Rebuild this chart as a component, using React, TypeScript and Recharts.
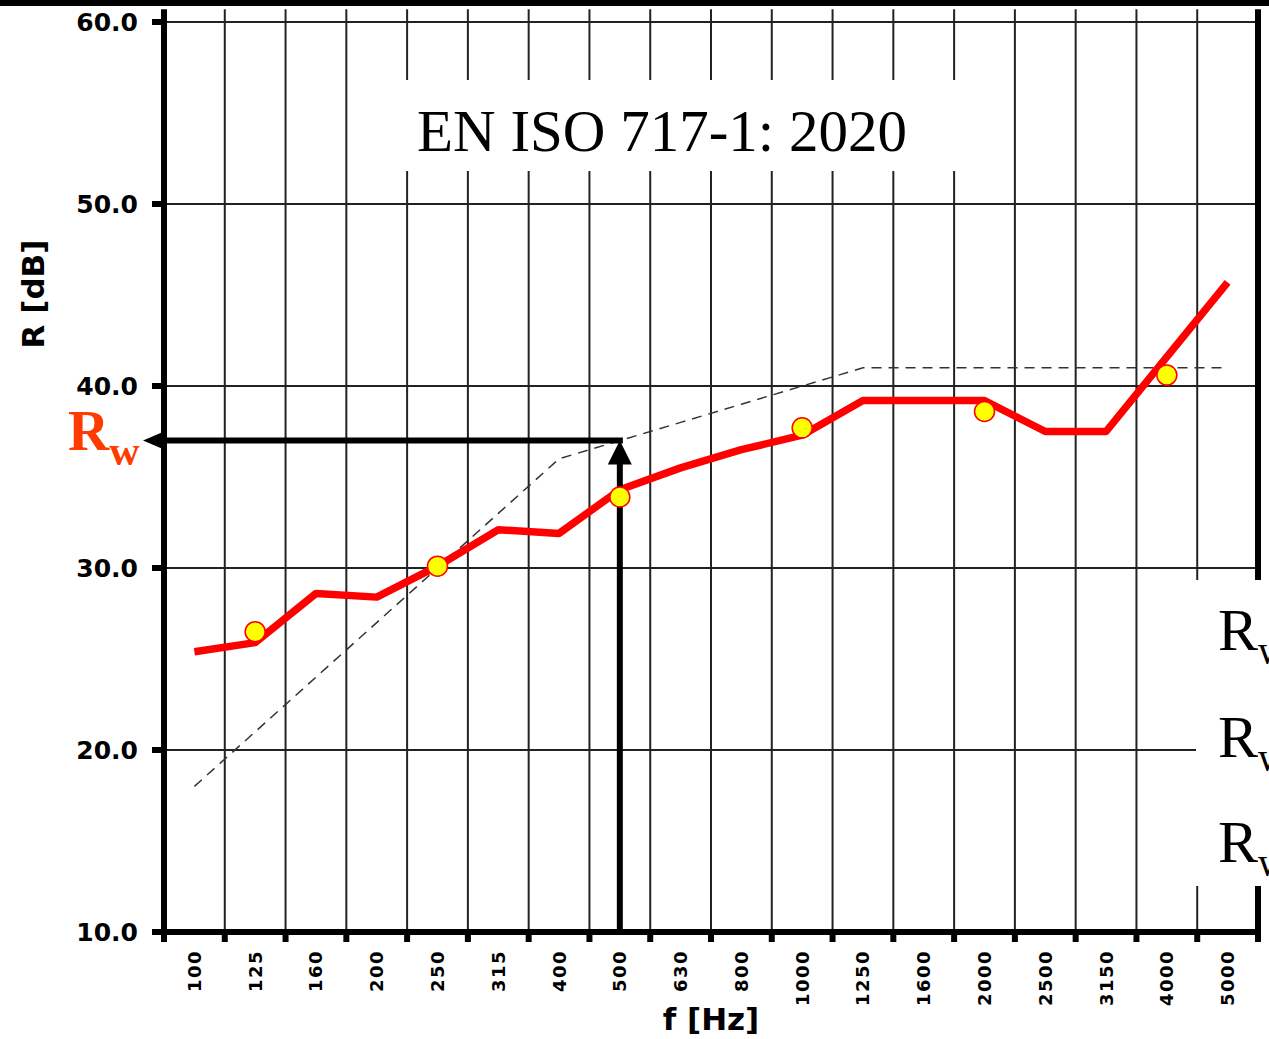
import React from "react";
import { LineChart, Line, XAxis, YAxis, CartesianGrid, ReferenceLine } from "recharts";

const categories = ["100", "125", "160", "200", "250", "315", "400", "500", "630", "800", "1000", "1250", "1600", "2000", "2500", "3150", "4000", "5000"];
const measured = [25.4, 25.9, 28.6, 28.4, 30.1, 32.1, 31.9, 34.3, 35.5, 36.5, 37.3, 39.2, 39.2, 39.2, 37.5, 37.5, 41.6, 45.7];
const octaveValues = [null, 26.5, null, null, 30.1, null, null, 33.9, null, null, 37.7, null, null, 38.6, null, null, 40.6, null];
const referenceCurve = [18, 21, 24, 27, 30, 33, 36, 37, 38, 39, 40, 41, 41, 41, 41, 41, 41, 41];
const yTicks = [10, 20, 30, 40, 50, 60];
const xTicks = categories.map((_, i) => i).concat(categories.length);
const rwValue = 37;
const rwIndex = 7; // 500 Hz
const gridTop = 60.7; // grid lines run a little past 60

const data = categories.map((f, i) => ({
  x: i + 0.5,
  f,
  measured: measured[i],
  octave: octaveValues[i],
  reference: referenceCurve[i],
}));

const W = 1269;
const H = 1039;
const PLOT_LEFT = 164;
const PLOT_RIGHT = 1258;
const BAND = (PLOT_RIGHT - PLOT_LEFT) / categories.length;

const bold = { fontFamily: "'DejaVu Sans', sans-serif", fontWeight: "bold" as const };

function XTick(props: any) {
  const { x, y, payload } = props;
  const label = categories[payload.value];
  if (label === undefined) return <g />;
  return (
    <text
      transform={`translate(${x + BAND / 2},${y + 6}) rotate(-90)`}
      textAnchor="end"
      dominantBaseline="central"
      fontSize={18}
      letterSpacing={1.5}
      fill="#000"
      {...bold}
    >
      {label}
    </text>
  );
}

function ArrowLeft(p: any) {
  const { x1, y1, x2, y2 } = p;
  return (
    <g>
      <line x1={x1 + 3} y1={y1} x2={x2 - 4} y2={y2} stroke="#000" strokeWidth={6} />
      <polygon points={`${x2 - 21},${y2} ${x2},${y2 - 9} ${x2},${y2 + 9}`} fill="#000" />
    </g>
  );
}

function ArrowUp(p: any) {
  const { x1, y1, x2, y2 } = p;
  return (
    <g>
      <line x1={x1} y1={y1} x2={x2} y2={y2 + 18} stroke="#000" strokeWidth={6} />
      <polygon points={`${x2},${y2} ${x2 - 12},${y2 + 24} ${x2 + 12},${y2 + 24}`} fill="#000" />
    </g>
  );
}

export default function App() {
  return (
    <div style={{ position: "absolute", left: 0, top: 0, width: W, height: H, overflow: "hidden", background: "#fff" }}>
      <LineChart width={W} height={H} data={data} margin={{ top: 22, right: W - PLOT_RIGHT, bottom: 0, left: 0 }}>
        <CartesianGrid stroke="#222" strokeWidth={2} horizontal={false} verticalValues={xTicks} />
        {yTicks.map((v) => (
          <ReferenceLine key={v} y={v} stroke="#222" strokeWidth={2} />
        ))}
        {xTicks.map((i) => (
          <ReferenceLine
            key={`ext${i}`}
            segment={[{ x: i, y: 60 }, { x: i, y: gridTop }]}
            ifOverflow="visible"
            stroke={i === 0 || i === categories.length ? "#000" : "#222"}
            strokeWidth={i === 0 || i === categories.length ? 6 : 2}
          />
        ))}
        <XAxis
          type="number"
          dataKey="x"
          domain={[0, categories.length]}
          ticks={xTicks}
          interval={0}
          height={107}
          axisLine={{ stroke: "#000", strokeWidth: 6 }}
          tickLine={{ stroke: "#000", strokeWidth: 6 }}
          tickSize={10}
          tick={<XTick />}
        />
        <YAxis
          type="number"
          domain={[10, 60]}
          ticks={yTicks}
          allowDataOverflow
          width={PLOT_LEFT}
          tickFormatter={(v: number) => v.toFixed(1)}
          tick={{ fontSize: 25, fill: "#000", ...bold }}
          axisLine={{ stroke: "#000", strokeWidth: 6 }}
          tickLine={{ stroke: "#000", strokeWidth: 6 }}
          tickSize={12}
          tickMargin={14}
        />
        <Line
          dataKey="reference"
          stroke="#333"
          strokeWidth={1.5}
          strokeDasharray="10 7"
          dot={false}
          activeDot={false}
          isAnimationActive={false}
        />
        <Line
          dataKey="measured"
          stroke="#ff0000"
          strokeWidth={7.5}
          strokeLinejoin="round"
          dot={false}
          activeDot={false}
          isAnimationActive={false}
        />
        <Line
          dataKey="octave"
          stroke="none"
          dot={{ r: 10, fill: "#ffff00", stroke: "#ff0000", strokeWidth: 1.5 }}
          activeDot={false}
          isAnimationActive={false}
        />
        <ReferenceLine x={categories.length} stroke="#000" strokeWidth={6} />
        <ReferenceLine
          segment={[{ x: rwIndex + 0.5, y: rwValue }, { x: 0, y: rwValue }]}
          ifOverflow="visible"
          shape={<ArrowLeft />}
        />
        <ReferenceLine
          segment={[{ x: rwIndex + 0.5, y: 10 }, { x: rwIndex + 0.5, y: rwValue }]}
          ifOverflow="visible"
          shape={<ArrowUp />}
        />
      </LineChart>
      <svg width={W} height={H} style={{ position: "absolute", left: 0, top: 0, pointerEvents: "none" }}>
        <rect x={0} y={0} width={W} height={6} fill="#000" />
        <rect x={400} y={80} width={565} height={91} fill="#fff" />
        <text x={662} y={151} textAnchor="middle" fontSize={59} fontFamily="'Liberation Serif', serif" fill="#000">
          EN ISO 717-1: 2020
        </text>
        <rect x={1196} y={580} width={80} height={306} fill="#fff" />
        {[650, 757, 862].map((by) => (
          <text key={by} x={1218} y={by} fontSize={60} fontFamily="'Liberation Serif', serif" fill="#000">
            R<tspan fontSize={40} dy={14}>w</tspan>
          </text>
        ))}
        <text x={68} y={450} fontSize={57} fontWeight="bold" fontFamily="'Liberation Serif', serif" fill="#ff3c00">
          R<tspan fontSize={42} dy={15}>w</tspan>
        </text>
        <text
          transform="translate(44,294) rotate(-90)"
          textAnchor="middle"
          fontSize={31}
          fill="#000"
          {...bold}
        >
          R [dB]
        </text>
        <text x={711} y={1030} textAnchor="middle" fontSize={31} fill="#000" {...bold}>
          f [Hz]
        </text>
      </svg>
    </div>
  );
}
